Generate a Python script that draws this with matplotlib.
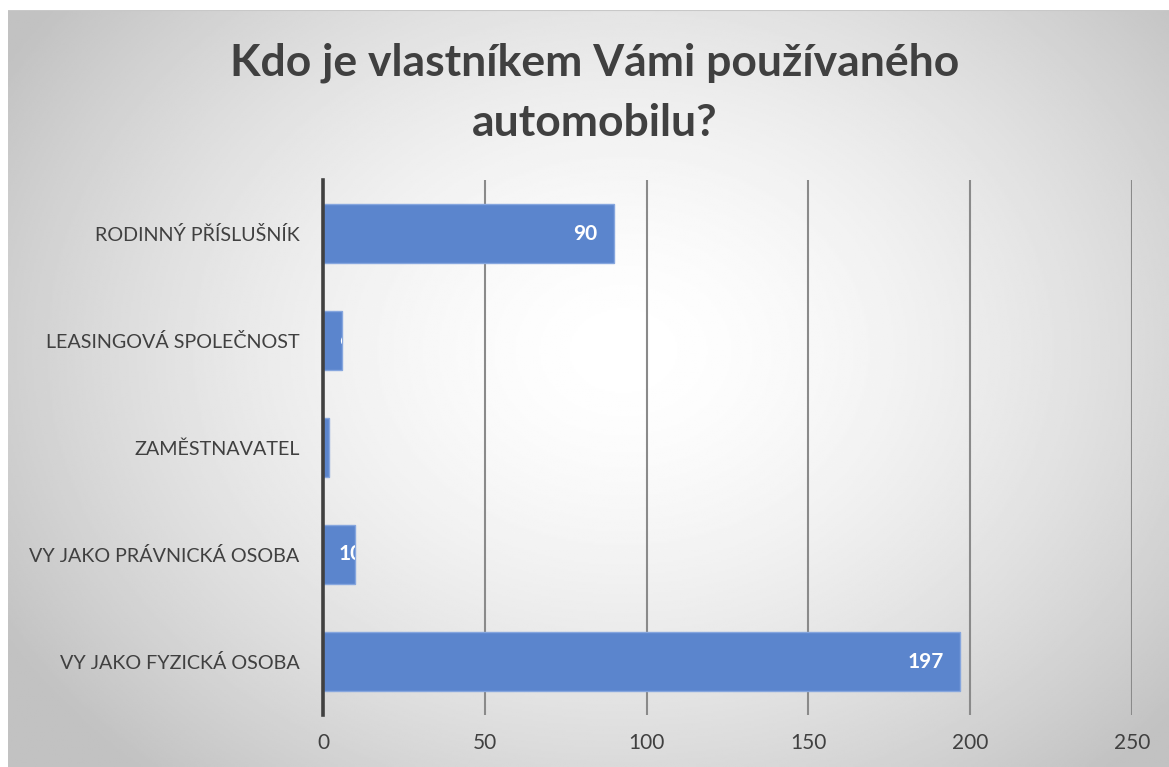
import numpy as np
import matplotlib
matplotlib.use("Agg")
import matplotlib.pyplot as plt

categories = ["VY JAKO FYZICKÁ OSOBA", "VY JAKO PRÁVNICKÁ OSOBA", "ZAMĚSTNAVATEL",
              "LEASINGOVÁ SPOLEČNOST", "RODINNÝ PŘÍSLUŠNÍK"]
values = [197, 10, 2, 6, 90]
xticks = [0, 50, 100, 150, 200, 250]
title = "Kdo je vlastníkem Vámi používaného\nautomobilu?"

plt.rcParams['font.family'] = ['Lato', 'DejaVu Sans']

W, H = 1169, 767
fig = plt.figure(figsize=(W / 100, H / 100), dpi=100)
fig.patch.set_facecolor('white')

# radial gradient background
bg = fig.add_axes([8 / W, 0, 1 - 8 / W, 1 - 10 / H])
yy, xx = np.mgrid[0:1:400j, 0:1:600j]
r = np.sqrt(((xx - 0.53) / 0.62) ** 2 + ((yy - 0.45) / 0.75) ** 2)
shade = 1 - 0.24 * np.clip(r, 0, 1) ** 1.6
bg.imshow(shade, cmap='gray', vmin=0, vmax=1, aspect='auto', extent=[0, 1, 0, 1])
bg.axhline(1, color='#c8c8c8', lw=1.5)
bg.set_axis_off()

ax = fig.add_axes([323 / W, 1 - 715 / H, (1132 - 323) / W, (715 - 180) / H])
ax.patch.set_alpha(0)
y = np.arange(len(categories))
bars = ax.barh(y, values, height=0.56, color='#5b85cd', edgecolor='#86a6de',
               linewidth=1, zorder=3)
ax.set_xlim(0, 250)
ax.set_ylim(-0.5, len(categories) - 0.5)
ax.set_xticks(xticks)
ax.set_yticks(y)
ax.set_yticklabels(categories)
ax.tick_params(length=0, labelsize=14.2, colors='#404040')
ax.tick_params(axis='x', pad=13, labelsize=15)
ax.tick_params(axis='y', pad=17)
ax.grid(axis='x', color='#8a8a8a', lw=1.5, zorder=1)
for s in ['top', 'right', 'bottom']:
    ax.spines[s].set_visible(False)
ax.spines['left'].set_color('#404040')
ax.spines['left'].set_linewidth(2.6)
ax.spines['left'].set_zorder(4)

# white labels, only visible where they sit over their bar
for bar, yi, v in zip(bars, y, values):
    if v > 30:
        t = ax.annotate(str(v), (v, yi), xytext=(-12, 0), textcoords='offset points',
                        ha='right', va='center', color='white', fontsize=15,
                        fontweight='bold', zorder=5)
    else:
        t = ax.annotate(str(v), (0, yi), xytext=(11.5, 0), textcoords='offset points',
                        ha='left', va='center', color='white', fontsize=15,
                        fontweight='bold', zorder=5)
        t.set_clip_path(bar)

fig.text(595 / W, 1 - 93 / H, title, ha='center', va='center', fontsize=32,
         fontweight='bold', color='#404040', linespacing=1.6)

fig.savefig('out.png', dpi=100)
